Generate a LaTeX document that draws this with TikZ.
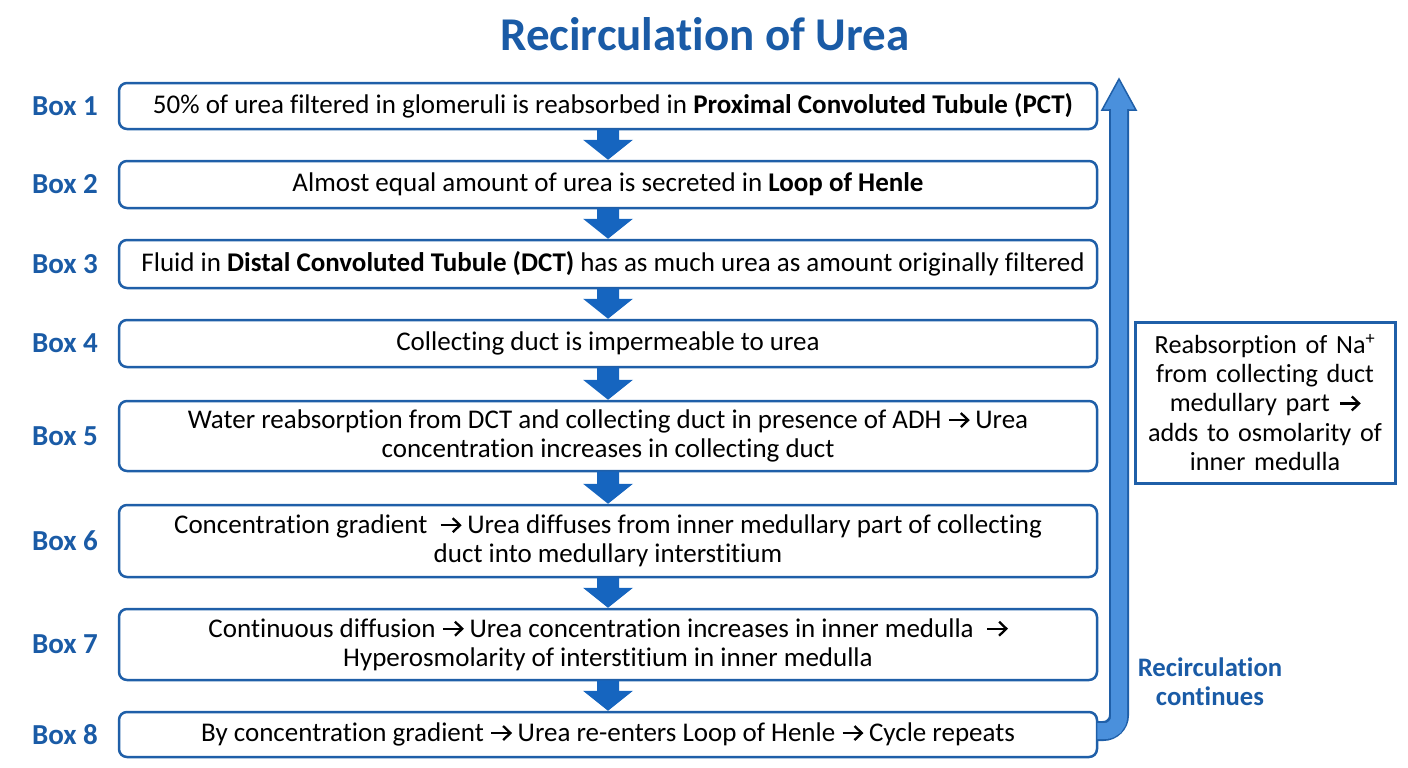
\documentclass[tikz,border=0pt]{standalone}
\usepackage{fontspec}
\setmainfont{Carlito}[Ligatures={NoCommon}]
\usetikzlibrary{calc}
\definecolor{titleblue}{HTML}{1A5BA6}
\definecolor{boxblue}{HTML}{1F5FA8}
\definecolor{arrowdark}{HTML}{1665BF}
\definecolor{arrowlight}{HTML}{4A90DC}
\newcommand{\rarr}{\tikz[baseline=0pt,x=1pt,y=1pt]{\draw[black,sharp corners,line width=2.3pt,line cap=butt] (0.5,8.5) -- (19,8.5); \draw[black,sharp corners,line width=2.3pt,line join=miter,miter limit=10] (12.5,15.5) -- (19.8,8.5) -- (12.5,1.5);}}
\begin{document}
\begin{tikzpicture}[x=1pt,y=-1pt,
  stepbox/.style={draw=boxblue, line width=2.5pt, rounded corners=8pt, fill=white,
    minimum width=978pt, align=center, inner sep=2pt,
    font=\fontsize{27}{29}\selectfont},
  boxlabel/.style={text=titleblue, font=\bfseries\fontsize{29}{30}\selectfont},
  sidebox/.style={draw=boxblue, line width=3pt, minimum width=260pt, minimum height=161pt,
    text width=256pt, align=center, inner sep=2pt, font=\fontsize{26.2}{29.3}\selectfont},
  recirc/.style={text=titleblue, align=center, font=\bfseries\fontsize{26.7}{29}\selectfont},
  titlestyle/.style={text=titleblue, font=\bfseries\fontsize{47}{50}\selectfont}]
\useasboundingbox (0,0) rectangle (1408,768);

\node[titlestyle] (title) at (705,34) {Recirculation of Urea};

\node[stepbox, minimum height=46pt] (b1) at (608,106) {\hspace*{10pt}50\% of urea filtered in glomeruli is reabsorbed in \textbf{Proximal Convoluted Tubule (PCT)}};
\node[stepbox, minimum height=47pt] (b2) at (608,184.5) {Almost equal amount of urea is secreted in \textbf{Loop of Henle}};
\node[stepbox, minimum height=48pt] (b3) at (608,264) {\hspace*{10pt}Fluid in \textbf{Distal Convoluted Tubule (DCT)} has as much urea as amount originally filtered};
\node[stepbox, minimum height=47pt] (b4) at (608,343.5) {Collecting duct is impermeable to urea};
\node[stepbox, minimum height=70pt] (b5) at (608,436) {Water reabsorption from DCT and collecting duct in presence of ADH \rarr{} Urea\\concentration increases in collecting duct};
\node[stepbox, minimum height=72pt] (b6) at (608,541) {Concentration gradient ~\rarr{} Urea diffuses from inner medullary part of collecting\\duct into medullary interstitium};
\node[stepbox, minimum height=71pt] (b7) at (608,644.5) {Continuous diffusion \rarr{} Urea concentration increases in inner medulla ~\rarr\\Hyperosmolarity of interstitium in inner medulla};
\node[stepbox, minimum height=45pt] (b8) at (608,734.5) {By concentration gradient \rarr{} Urea re-enters Loop of Henle \rarr{} Cycle repeats};

\foreach \i/\y in {1/106,2/184.5,3/264,4/343.5,5/436,6/541,7/644.5,8/734.5}
  \node[boxlabel] (l\i) at (65,\y) {Box \i};

\foreach \a/\b in {b1/b2,b2/b3,b3/b4,b4/b5,b5/b6,b6/b7,b7/b8}
  \fill[arrowdark] ($(\a.south)+(-11,-1)$) -- ($(\b.north)+(-11,-20)$) -- ($(\b.north)+(-25,-20)$)
    -- (\b.north) -- ($(\b.north)+(25,-20)$) -- ($(\b.north)+(11,-20)$) -- ($(\a.south)+(11,-1)$) -- cycle;

% recirculation arrow
\coordinate (top) at (1119,79);
\draw[boxblue, line width=1.5pt, fill=arrowlight, line join=miter]
  ($(top)+(-9,31)$) -- ($(top)+(-17,31)$) -- (top) -- ($(top)+(17,31)$) -- ($(top)+(9,31)$);
\draw[boxblue, line width=20pt, rounded corners=16pt]
  ($(b8.east)+(-1,-3.5)$) -- ($(top |- b8.east)+(0,-3.5)$) -- ($(top)+(0,30)$);
\draw[arrowlight, line width=16pt, rounded corners=14pt]
  ($(b8.east)+(-1,-3.5)$) -- ($(top |- b8.east)+(0,-3.5)$) -- ($(top)+(0,29)$);

\node[sidebox] (side) at (1265,402.5) {Reabsorption of Na\textsuperscript{+}\\from collecting duct\\medullary part \rarr\\adds to osmolarity of\\inner medulla};

\node[recirc] (rc) at (1210,682) {Recirculation\\continues};
\end{tikzpicture}
\end{document}
